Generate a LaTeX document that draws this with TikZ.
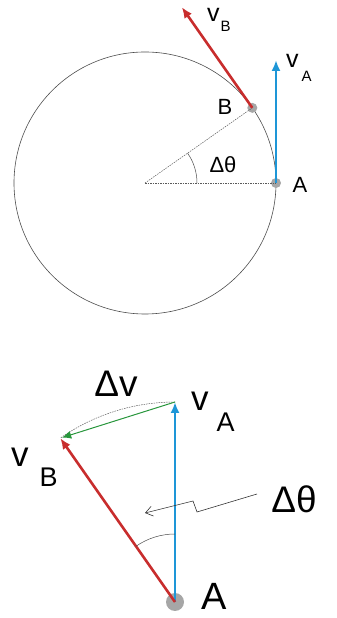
\documentclass[tikz,border=0pt]{standalone}
\usepackage{fontspec}
\setmainfont{Liberation Sans}
\usetikzlibrary{arrows.meta,calc}
\definecolor{vblue}{RGB}{30,150,215}
\definecolor{vred}{RGB}{200,45,45}
\definecolor{vgreen}{RGB}{40,150,60}
\newcommand{\fsz}[1]{\fontsize{#1}{#1}\selectfont}

\begin{document}
\begin{tikzpicture}[x=1pt, y=1pt,
  dot/.style={circle, fill=gray!70, inner sep=0pt, minimum size=10pt},
  lbl/.style={inner sep=0pt, anchor=base},
  vec/.style={line width=2.6pt, -{Latex[length=11pt,width=9pt]}},
  guide/.style={gray!70!black, line width=0.5pt, dash pattern=on 1.5pt off 1pt},
  thin arc/.style={gray!60!black, line width=0.5pt}]
\useasboundingbox (0,0) rectangle (337,618);

% circular path
\coordinate (O) at (145,435);
\draw[gray!60!black, line width=0.6pt] (O) circle (131pt);
\node[dot] (A) at ($(O)+(0:131pt)$) {};
\node[dot] (B) at ($(O)+(35:131pt)$) {};
\coordinate (vAtip) at ($(A)+(0,123)$);
\coordinate (vBtip) at ($(B)+(125:123pt)$);
\draw[guide] (O) -- (A.center);
\draw[guide] (O) -- (B.center);
\draw[thin arc] ($(O)+(0:52pt)$) arc[start angle=0, end angle=35, radius=52pt];
\draw[vec, vblue] (A.center) -- (vAtip);
\draw[vec, vred] (B.center) -- (vBtip);

\node[lbl, font=\fsz{22}] (Alab) at (300,425) {A};
\node[lbl, font=\fsz{22}] (Blab) at (225,503) {B};
\node[lbl, font=\fsz{22}] (thlab) at (223,445) {Δθ};
\node[lbl, anchor=base west, font=\fsz{25}] (vAlab) at (286,550) {v\hspace{3pt}\raisebox{-14pt}{\fsz{15}A}};
\node[lbl, anchor=base west, font=\fsz{25}] (vBlab) at (207,596) {v\hspace{1pt}\raisebox{-10pt}{\fsz{15}B}};

% vector triangle
\node[dot, minimum size=18pt] (P) at (175,16) {};
\coordinate (wA) at ($(P)+(0,200)$);
\coordinate (wB) at ($(P)+(125:200pt)$);
\draw[guide] (wA) arc[start angle=90, end angle=125, radius=200pt];
\draw[vgreen, line width=1pt, -{Latex[length=9pt,width=8pt]}, shorten >=2pt] (wA) -- (wB);
\draw[vec, vblue] (P.center) -- (wA);
\draw[vec, vred] (P.center) -- (wB);
\draw[thin arc] ($(P)+(90:68pt)$) arc[start angle=90, end angle=125, radius=68pt];
\coordinate (zs) at (257,124);
\coordinate (ze) at (145,105);
\draw[gray!40!black, line width=0.6pt, -{Straight Barb[length=7pt,width=10pt]}] (zs) -- (197,106) -- (193,117) -- (ze);

\node[lbl, font=\fsz{37}] (dvlab) at (116,221) {Δv};
\node[lbl, font=\fsz{37}] (thblab) at (294,105) {Δθ};
\node[lbl, font=\fsz{38}] (Plab) at (214,9) {A};
\node[lbl, anchor=base west, font=\fsz{35}] (wAlab) at (191,207) {v\hspace{8pt}\raisebox{-21pt}{\fsz{27}A}};
\node[lbl, anchor=base west, font=\fsz{35}] (wBlab) at (11,151) {v\hspace{11pt}\raisebox{-20pt}{\fsz{27}B}};
\end{tikzpicture}
\end{document}
